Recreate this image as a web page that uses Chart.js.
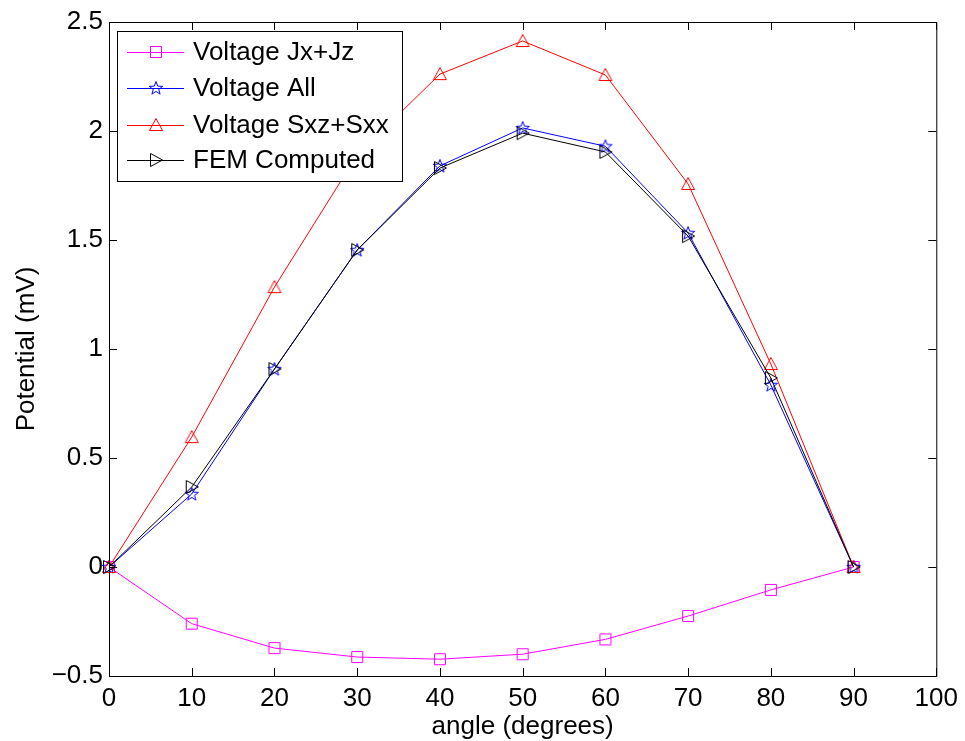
<!DOCTYPE html>
<html>
<head>
<meta charset="utf-8">
<title>Potential vs angle</title>
<script src="https://cdn.jsdelivr.net/npm/chart.js@4.4.0/dist/chart.umd.min.js"></script>
<style>
  html, body { margin: 0; padding: 0; background: #fff; }
  #wrap { width: 965px; height: 741px; }
</style>
</head>
<body>
<div id="wrap"><canvas id="potChart" width="965" height="741"></canvas></div>
<script>
'use strict';

// ── Data ──────────────────────────────────────────────────────────────────────
const angles     = [0, 10, 20, 30, 40, 50, 60, 70, 80, 90];
const voltJxJz   = [0, -0.26, -0.372, -0.413, -0.423, -0.40, -0.332, -0.225, -0.105, 0];
const voltAll    = [0, 0.335, 0.908, 1.454, 1.840, 2.014, 1.930, 1.532, 0.835, 0];
const voltSxzSxx = [0, 0.596, 1.284, 1.890, 2.261, 2.413, 2.257, 1.757, 0.931, 0];
const femComp    = [0, 0.367, 0.908, 1.454, 1.830, 1.990, 1.904, 1.518, 0.867, 0];

const seriesNames = ['Voltage Jx+Jz', 'Voltage All', 'Voltage Sxz+Sxx', 'FEM Computed'];
const xTicks = [0, 10, 20, 30, 40, 50, 60, 70, 80, 90, 100];
const yTicks = [-0.5, 0, 0.5, 1, 1.5, 2, 2.5];

const FONT = "'Liberation Sans', Arial, Helvetica, sans-serif";
const FSIZE = 26;

// ── Marker canvases (open MATLAB-style symbols) ───────────────────────────────
function makeMarker(kind, color) {
  const c = document.createElement('canvas');
  c.width = 18; c.height = 18;
  const g = c.getContext('2d');
  g.strokeStyle = color;
  g.lineWidth = 1;
  g.beginPath();
  if (kind === 'square') {
    g.rect(3.5, 3.5, 11, 11);
  } else if (kind === 'star') {
    for (let k = 0; k < 10; k++) {
      const r = k % 2 === 0 ? 7 : 2.9;
      const a = -Math.PI / 2 + k * Math.PI / 5;
      const px = 9 + r * Math.cos(a), py = 9.5 + r * Math.sin(a);
      if (k === 0) g.moveTo(px, py); else g.lineTo(px, py);
    }
    g.closePath();
  } else if (kind === 'triUp') {
    g.moveTo(9, 2.5); g.lineTo(15.5, 14.5); g.lineTo(2.5, 14.5); g.closePath();
  } else if (kind === 'triRight') {
    g.moveTo(3.5, 2.5); g.lineTo(15.5, 9); g.lineTo(3.5, 15.5); g.closePath();
  }
  g.stroke();
  return c;
}

const colors  = ['#ff00ff', '#0000ff', '#ff0000', '#000000'];
const markers = [
  makeMarker('square', colors[0]),
  makeMarker('star', colors[1]),
  makeMarker('triUp', colors[2]),
  makeMarker('triRight', colors[3])
];

function toPoints(ys) { return angles.map((a, i) => ({ x: a, y: ys[i] })); }

// ── Frame, inward ticks and legend ────────────────────────────────────────────
const framePlugin = {
  id: 'matlabFrame',
  afterDraw(chart) {
    const { ctx, chartArea: a, scales: { x, y } } = chart;
    ctx.save();
    ctx.strokeStyle = '#000';
    ctx.lineWidth = 1;
    ctx.beginPath();
    ctx.rect(a.left + 0.5, a.top + 0.5, a.right - a.left, a.bottom - a.top);
    const tl = 8;
    xTicks.forEach(v => {
      const px = Math.round(x.getPixelForValue(v)) + 0.5;
      ctx.moveTo(px, a.bottom); ctx.lineTo(px, a.bottom - tl);
      ctx.moveTo(px, a.top);    ctx.lineTo(px, a.top + tl);
    });
    yTicks.forEach(v => {
      const py = Math.round(y.getPixelForValue(v)) + 0.5;
      ctx.moveTo(a.left, py);  ctx.lineTo(a.left + tl, py);
      ctx.moveTo(a.right, py); ctx.lineTo(a.right - tl, py);
    });
    ctx.stroke();

    // legend box
    const lx = 117, ly = 31, lw = 285, lh = 150;
    ctx.fillStyle = '#fff';
    ctx.fillRect(lx, ly, lw, lh);
    ctx.strokeRect(lx + 0.5, ly + 0.5, lw, lh);
    ctx.font = FSIZE + 'px ' + FONT;
    ctx.textBaseline = 'middle';
    ctx.textAlign = 'left';
    const rows = [52, 88, 125, 160];
    seriesNames.forEach((name, i) => {
      const ry = rows[i] + 0.5;
      ctx.strokeStyle = colors[i];
      ctx.beginPath();
      ctx.moveTo(127, ry); ctx.lineTo(184, ry);
      ctx.stroke();
      ctx.drawImage(markers[i], 156 - 9, rows[i] - 9);
      ctx.fillStyle = '#000';
      ctx.fillText(name, 193, rows[i] + 1);
    });
    ctx.restore();
  }
};

// ── Chart ─────────────────────────────────────────────────────────────────────
const datasets = [voltJxJz, voltAll, voltSxzSxx, femComp].map((ys, i) => ({
  label: seriesNames[i],
  data: toPoints(ys),
  borderColor: colors[i],
  borderWidth: 1,
  pointStyle: markers[i],
  pointRadius: 7,
  pointHoverRadius: 7,
  fill: false,
  tension: 0,
  clip: false,
  order: 3 - i
}));

new Chart(document.getElementById('potChart'), {
  type: 'line',
  data: { datasets },
  plugins: [framePlugin],
  options: {
    responsive: false,
    animation: false,
    events: [],
    layout: { padding: { top: 22, right: 27, left: 0, bottom: 0 } },
    plugins: { legend: { display: false }, tooltip: { enabled: false } },
    scales: {
      x: {
        type: 'linear',
        min: 0, max: 100,
        afterBuildTicks: s => { s.ticks = xTicks.map(v => ({ value: v })); },
        afterFit: s => { s.height = 65; },
        grid: { display: false, drawTicks: false },
        border: { display: false },
        ticks: {
          color: '#000', padding: 7, maxRotation: 0, autoSkip: false,
          font: { family: FONT, size: FSIZE }
        },
        title: {
          display: true, text: 'angle (degrees)', color: '#000',
          font: { family: FONT, size: FSIZE }, padding: { top: 0, bottom: -1 }
        }
      },
      y: {
        type: 'linear',
        min: -0.5, max: 2.5,
        afterBuildTicks: s => { s.ticks = yTicks.map(v => ({ value: v })); },
        afterFit: s => { s.width = 109; },
        grid: { display: false, drawTicks: false },
        border: { display: false },
        ticks: {
          color: '#000', padding: 6, autoSkip: false,
          font: { family: FONT, size: FSIZE },
          callback: v => String(v).replace('-', '\u2212')
        },
        title: {
          display: true, text: 'Potential (mV)', color: '#000',
          font: { family: FONT, size: FSIZE }, padding: { top: 11, bottom: 0 }
        }
      }
    }
  }
});
</script>
</body>
</html>
